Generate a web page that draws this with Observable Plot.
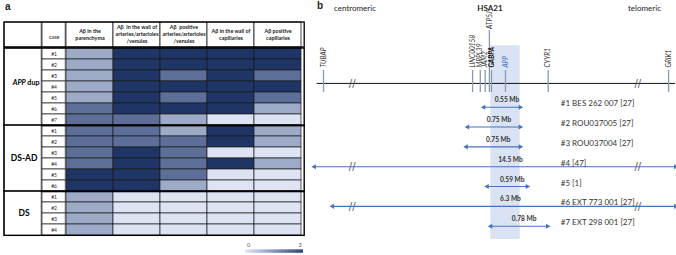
<!DOCTYPE html>
<html><head><meta charset="utf-8">
<script src="https://cdn.jsdelivr.net/npm/d3@7"></script>
<script src="https://cdn.jsdelivr.net/npm/@observablehq/plot@0.6"></script>
<style>
body{margin:0;background:#fff;}
#root{position:relative;width:676px;height:255px;overflow:hidden;background:#fff;font-family:Lato,"Open Sans",sans-serif;color:#222;}
.lbl{position:absolute;white-space:nowrap;line-height:1;}
.pl{position:absolute;}
</style></head><body>
<div id="root">
  <div class="lbl" style="left:5px;top:1.5px;font:bold 10px 'Liberation Sans',Arial,sans-serif;line-height:10px">a</div>
  <div class="lbl" style="left:317px;top:0.8px;font:bold 10px 'Liberation Sans',Arial,sans-serif;line-height:10px">b</div>
  <div class="lbl" style="left:334px;top:3.8px;font-size:8px;line-height:8px">centromeric</div>
  <div class="lbl" style="left:490px;top:3.8px;font-size:8px;line-height:8px;font-weight:bold;transform:translateX(-50%)">HSA21</div>
  <div class="lbl" style="left:628px;top:3.8px;font-size:8px;line-height:8px">telomeric</div>
  <div id="pa" class="pl" style="left:0;top:0"></div>
  <div id="pb" class="pl" style="left:305px;top:0"></div>
  <div id="leg" class="pl" style="left:243px;top:240px"></div>
</div>
<script>
// ---------------- data: panel a ----------------
const measures = [
  "Aβ in the parenchyma",
  "Aβ in the wall of arteries/arterioles/venules",
  "Aβ positive arteries/arterioles/venules",
  "Aβ in the wall of capillaries",
  "Aβ positive capillaries"
];
const measureHeaders = [
  "Aβ in the\nparenchyma",
  "Aβ  in the wall of\narteries/arterioles\n/venules",
  "Aβ  positive\narteries/arterioles\n/venules",
  "Aβ in the wall of\ncapillaries",
  "Aβ positive\ncapillaries"
];
const groups = ["APP dup", "DS-AD", "DS"];
const casesAPPdup = ["#1", "#2", "#3", "#4", "#5", "#6", "#7"];
const casesDSAD = ["#1", "#2", "#3", "#4", "#5", "#6"];
const casesDS = ["#1", "#2", "#3", "#4"];
// scores 0–3, one array per case, in the order of `measures`
const scoresAPPdup = [
  [1, 3, 3, 3, 3],
  [1, 3, 3, 3, 3],
  [1, 3, 2, 3, 2],
  [1, 3, 3, 3, 3],
  [1, 3, 2, 3, 2],
  [2, 3, 3, 3, 1],
  [2, 2, 1, 0, 0]
];
const scoresDSAD = [
  [2, 2, 1, 3, 1],
  [2, 2, 2, 3, 1],
  [2, 3, 2, 0, 0],
  [2, 3, 2, 3, 1],
  [3, 3, 2, 0, 0],
  [3, 3, 1, 0, 0]
];
const scoresDS = [
  [1, 0, 0, 0, 0],
  [1, 0, 0, 0, 0],
  [1, 0, 0, 0, 0],
  [1, 0, 0, 0, 0]
];
const legendTicks = [0, 3];

// ---------------- data: panel b ----------------
// positions along a schematic HSA21 axis (approx. Mb, with breaks)
const geneNames = ["TUBAP", "LINC00158", "MRPL39", "JAM2", "ATP5J", "GABPA", "APP", "CYYR1", "GRIK1"];
const genePositions = [24.80, 26.93, 27.04, 27.11, 27.17, 27.20, 27.40, 28.01, 29.73];
const chromosomeExtent = [24.71, 29.83];
const appRegion = [27.19, 27.61];
const breakPositions = [25.21, 29.29];
const caseLabels = ["#1 BES 262 007 [27]", "#2 ROU037005 [27]", "#3 ROU037004 [27]", "#4 [47]", "#5 [1]", "#6 EXT 773 001 [27]", "#7 EXT 298 001 [27]"];
const dupSizes = ["0.55 Mb", "0.75 Mb", "0.75 Mb", "14.5 Mb", "0.59 Mb", "6.3 Mb", "0.78 Mb"];
const dupStart = [27.09, 26.86, 26.84, 24.67, 27.14, 24.93, 27.19];
const dupEnd = [27.61, 27.61, 27.61, 29.83, 27.71, 29.83, 28.00];

// ---------------- tables ----------------
const groupCases = [casesAPPdup, casesDSAD, casesDS];
const groupScores = [scoresAPPdup, scoresDSAD, scoresDS];
const rows = groups.flatMap((g, gi) => groupCases[gi].map((c, ci) => ({id: g + " " + c, group: g, case: c, scores: groupScores[gi][ci]})));
const cells = rows.flatMap(r => measures.map((m, mi) => ({id: r.id, measure: m, score: r.scores[mi]})));

const colorScale = {type: "linear", domain: [0, 1, 2, 3], range: ["#dde3f3", "#9eabc8", "#5d6f99", "#1f3566"]};
const font = "Lato, 'Open Sans', sans-serif";

// ---------------- panel a ----------------
{
  const W = 306, H = 240, mL = 64, mR = 3, mT = 47, mB = 4;
  const caseW = 24, groupW = 38, hdrH = 25;
  const bw = (W - mL - mR) / measures.length;
  const frameH = H - mT - mB;
  const bh = frameH / rows.length;
  const first = measures[0];
  const line = "#1a1a1a";
  const cCase = -bw / 2 - caseW / 2;
  const cGroup = -bw / 2 - caseW - groupW / 2;
  const fullRight = -(measures.length - 1) * bw;

  const groupMarks = groups.flatMap((g, gi) => {
    const gr = rows.filter(r => r.group === g);
    const ext = -(gr.length - 1) * bh;
    const mid = (gr.length - 1) / 2;
    const anchor = gr[Math.floor(mid)];
    const dy = (mid - Math.floor(mid)) * bh + (gi === 0 ? -4 : 0);
    const parts = g.split(" ");
    const labelMarks = parts.length > 1 ? [
      Plot.text([anchor], {x: () => first, y: "id", text: () => parts[0], textAnchor: "end", dx: cGroup + 2.7, dy, fontSize: 7.2, fontWeight: "bold", fontStyle: "italic", fill: "black"}),
      Plot.text([anchor], {x: () => first, y: "id", text: () => parts.slice(1).join(" "), textAnchor: "start", dx: cGroup + 4.2, dy, fontSize: 7.2, fontWeight: "bold", fill: "black"})
    ] : [
      Plot.text([anchor], {x: () => first, y: "id", text: () => g, dx: cGroup + 1, dy, fontSize: 8.5, fontWeight: "bold", fill: "black"})
    ];
    return [
      Plot.cell([gr[0]], {x: () => first, y: "id", fill: "white", stroke: line, strokeWidth: 0.8, insetLeft: -(caseW + groupW), insetRight: bw + caseW, insetBottom: ext}),
      ...labelMarks,
      Plot.cell([gr[0]], {x: () => first, y: "id", fill: "none", stroke: "#000", strokeWidth: 1.4, insetLeft: -(caseW + groupW), insetRight: fullRight, insetBottom: ext})
    ];
  });

  const chartA = Plot.plot({
    width: W, height: H, marginLeft: mL, marginRight: mR, marginTop: mT, marginBottom: mB,
    x: {type: "band", domain: measures, padding: 0, axis: null},
    y: {type: "band", domain: rows.map(r => r.id), padding: 0, axis: null},
    color: colorScale,
    style: {fontFamily: font, background: "none", overflow: "visible"},
    marks: [
      // header row
      Plot.cell(measures, {x: d => d, fill: "white", stroke: line, strokeWidth: 0.8, insetTop: -hdrH, insetBottom: frameH}),
      Plot.cell([first], {x: d => d, fill: "white", stroke: line, strokeWidth: 0.8, insetTop: -hdrH, insetBottom: frameH, insetLeft: -caseW, insetRight: bw}),
      Plot.cell([first], {x: d => d, fill: "white", stroke: line, strokeWidth: 0.8, insetTop: -hdrH, insetBottom: frameH, insetLeft: -(caseW + groupW), insetRight: bw + caseW}),
      // heat cells
      Plot.cell(cells, {x: "measure", y: "id", fill: "score", stroke: line, strokeWidth: 0.7}),
      // case column
      Plot.cell(rows, {x: () => first, y: "id", fill: "white", stroke: line, strokeWidth: 0.7, insetLeft: -caseW, insetRight: bw}),
      ...groupMarks,
      Plot.cell([first], {x: d => d, fill: "none", stroke: "#000", strokeWidth: 1.3, insetTop: -hdrH, insetBottom: frameH, insetLeft: -(caseW + groupW), insetRight: fullRight}),
      Plot.text(measures, {x: d => d, text: (d, i) => measureHeaders[i], frameAnchor: "top", lineAnchor: "middle", dy: -13.5, lineHeight: 1.3, fontSize: 5.4, fontWeight: "bold", fill: "#222"}),
      Plot.text(["case"], {x: () => first, text: d => d, frameAnchor: "top", lineAnchor: "middle", dy: -10.5, dx: cCase, fontSize: 5.4, fill: "#222"}),
      Plot.text(rows, {x: () => first, y: "id", text: "case", dx: cCase, fontSize: 5, fill: "#222"})
    ]
  });
  document.getElementById("pa").append(chartA);
}

// ---------------- legend ----------------
{
  const step = 0.03;
  const ramp = d3.range(0, 3, step);
  const leg = Plot.plot({
    width: 62, height: 15, marginLeft: 2, marginRight: 2, marginTop: 9.5, marginBottom: 2.3,
    x: {domain: [0, 3], axis: null},
    color: colorScale,
    style: {fontFamily: font, background: "none", overflow: "visible"},
    marks: [
      Plot.rect(ramp, {x1: d => d, x2: d => Math.min(3, d + step * 1.5), fill: d => d}),
      Plot.text(legendTicks.slice(0, 1), {x: d => d, text: d => String(d), frameAnchor: "top", lineAnchor: "middle", dy: -4.5, dx: 3, fontSize: 5.5, fill: "#555"}),
      Plot.text(legendTicks.slice(1), {x: d => d, text: d => String(d), frameAnchor: "top", lineAnchor: "middle", dy: -4.5, dx: -3.5, fontSize: 5.5, fill: "#555"})
    ]
  });
  document.getElementById("leg").append(leg);
}

// ---------------- panel b ----------------
{
  const genes = geneNames.map((name, i) => ({name, pos: genePositions[i]}));
  const dups = caseLabels.map((label, i) => ({label, size: dupSizes[i], start: dupStart[i], end: dupEnd[i], track: i + 1}));
  const chromTrack = -0.2;
  const tall = new Set(["ATP5J"]);
  const blue = "#4472c4";
  const isLong = d => d.end - d.start > 2;
  const appCenter = (appRegion[0] + appRegion[1]) / 2;
  const caseLabelX = 28.19;
  const breaks = [
    ...breakPositions.map(x => ({x, track: chromTrack})),
    ...dups.filter(isLong).flatMap(d => breakPositions.map(x => ({x, track: d.track})))
  ];
  const labelBase = d => tall.has(d.name) ? chromTrack - 2.75 : chromTrack - 0.8;
  const geneLabel = {x: "pos", y: labelBase, rotate: -90, textAnchor: "start", lineAnchor: "middle", text: "name", fontStyle: "italic", fontSize: 6.6};

  const chartB = Plot.plot({
    width: 371, height: 255, margin: 0,
    x: {domain: [24.543, 29.843], axis: null},
    y: {domain: [-4.381, 8.478], reverse: true, axis: null},
    style: {fontFamily: font, background: "none", overflow: "visible"},
    marks: [
      Plot.rect([appRegion], {x1: d => d[0], x2: d => d[1], y1: chromTrack - 1.9, y2: dups.length + 0.67, fill: "#dae3f3"}),
      Plot.ruleY([chromTrack], {x1: chromosomeExtent[0], x2: chromosomeExtent[1], stroke: "#111", strokeWidth: 1}),
      Plot.ruleX(genes, {x: "pos", y1: d => chromTrack - (tall.has(d.name) ? 2.67 : 0.65), y2: chromTrack + 0.46, stroke: "#8a9ab3", strokeWidth: 1.3}),
      Plot.text(genes.filter(d => d.name !== "APP" && d.name !== "GABPA"), {...geneLabel, fill: "#333"}),
      Plot.text(genes.filter(d => d.name === "GABPA"), {...geneLabel, fill: "#111", fontWeight: "bold"}),
      Plot.text(genes.filter(d => d.name === "APP"), {...geneLabel, fill: blue}),
      Plot.text(breaks, {x: "x", y: "track", text: () => "//", fontSize: 10, fill: "#555", fontFamily: "DejaVu Sans"}),
      Plot.link(dups, {x1: "start", x2: "end", y1: "track", y2: "track", stroke: blue, strokeWidth: 1.1}),
      Plot.dot(dups, {x: "end", y: "track", symbol: "triangle", r: 1.9, fill: blue, rotate: 90}),
      Plot.dot(dups, {x: "start", y: "track", symbol: "triangle", r: 1.9, fill: blue, rotate: -90}),
      Plot.text(dups, {x: d => isLong(d) ? appCenter : (d.start + d.end) / 2, y: "track", dx: 5, dy: -7, text: "size", fontSize: 6.6, fontWeight: "bold", fill: "#333"}),
      Plot.text(dups, {x: () => caseLabelX, y: "track", dy: -3.5, text: "label", textAnchor: "start", fontSize: 8, fill: "#333"})
    ]
  });
  document.getElementById("pb").append(chartB);
}
</script>
</body></html>
